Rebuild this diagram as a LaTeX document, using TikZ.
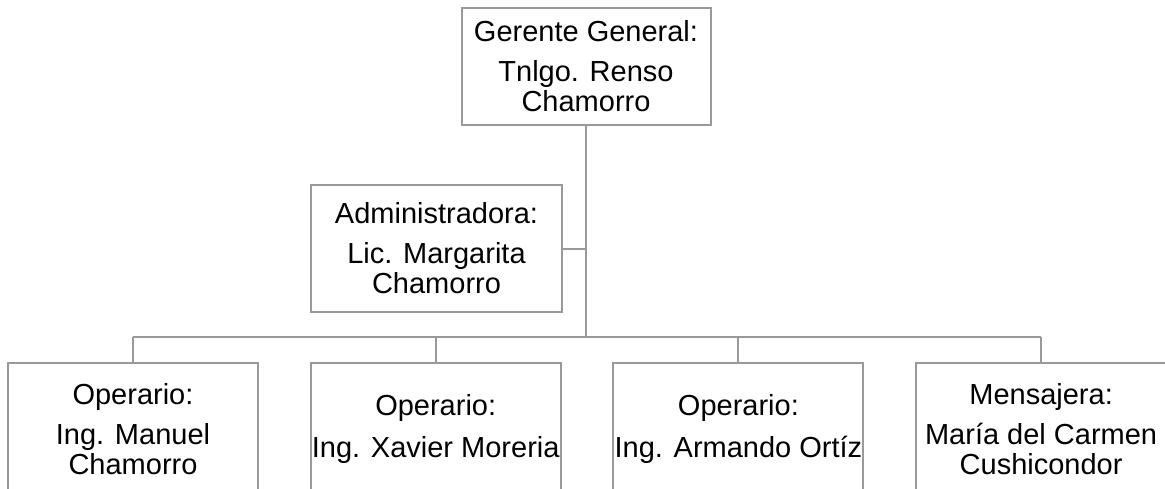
\documentclass[tikz,border=0pt]{standalone}
\usepackage{fontspec}
\setmainfont{Liberation Sans}
\usetikzlibrary{positioning}

\begin{document}
\begin{tikzpicture}[x=1pt,y=-1pt,on grid,node distance=302.7pt,
    puesto/.style={draw=black!40,line width=2pt,minimum width=250pt,minimum height=125pt,
      inner sep=0pt,align=center,font=\fontsize{29}{30}\selectfont},
    linea/.style={draw=black!40,line width=2pt}]
  \useasboundingbox (0,0) rectangle (1165,488);
  \clip (0,0) rectangle (1165,488);
  \node[puesto,minimum width=249pt,minimum height=117pt] (ger) at (586,66.5) {Gerente General:\\[10pt]Tnlgo. Renso\\Chamorro};
  \node[puesto,minimum width=251pt,minimum height=127pt] (adm) [below left=182pt and 149.5pt of ger] {Administradora:\\[10pt]Lic. Margarita\\Chamorro};
  \node[puesto,minimum height=132pt] (op_1) at (133,429) {Operario:\\[10pt]Ing. Manuel\\Chamorro};
  \node[puesto,minimum height=132pt] (op_2) [right=of op_1] {Operario:\\[12pt]Ing. Xavier Moreria};
  \node[puesto,minimum height=132pt] (op_3) [right=of op_2] {Operario:\\[12pt]Ing. Armando Ortíz};
  \node[puesto,minimum height=132pt] (men) [right=of op_3] {Mensajera:\\[10pt]María del Carmen\\Cushicondor};
  \coordinate (bus) at (586,337);
  \path[linea]
    (ger) -- (bus)
    (adm.east) -- (adm.east -| ger.south)
    (op_1.north |- bus) -- (men.north |- bus);
  \foreach \n in {op_1,op_2,op_3,men}
    \draw[linea] (\n.north) -- (\n.north |- bus);
\end{tikzpicture}
\end{document}
